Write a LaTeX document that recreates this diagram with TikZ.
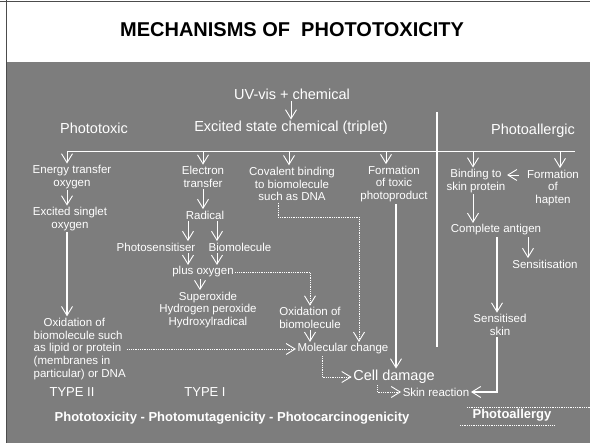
\documentclass[tikz,border=0pt]{standalone}
\usepackage{fontspec}
\setmainfont{Liberation Sans}
\usetikzlibrary{arrows.meta}
\definecolor{bg}{RGB}{125,125,125}
\begin{document}
\begin{tikzpicture}[x=1pt,y=-1pt,
  lbl/.style={text=white, font=\fontsize{11.5}{12.8}\selectfont, align=center, inner sep=1.5pt},
  big/.style={text=white, font=\fontsize{14.5}{16}\selectfont, inner sep=1.5pt},
  bold/.style={text=white, font=\fontsize{13}{15}\selectfont\bfseries, inner sep=1.5pt},
  arr/.style={draw=white, line width=0.8pt, -{Straight Barb[length=9pt,width=11pt,line width=0.9pt]}},
  thk/.style={line width=1.5pt},
  dot/.style={draw=white, line width=0.8pt, densely dotted},
  ln/.style={draw=white, line width=0.9pt}]
\useasboundingbox (0,0) rectangle (590,443);
\fill[white] (0,0) rectangle (590,443);
\fill[bg] (6,62) rectangle (590,443);
\draw[black!70, line width=0.8pt] (0,1) -- (590,1);
\draw[black!70, line width=0.8pt] (6,0) -- (6,443);

\node[font=\fontsize{20}{23}\selectfont\bfseries] (title) at (292,30) {MECHANISMS OF\ \ PHOTOTOXICITY};

% headings
\node[big] (uv) at (292,94) {UV-vis + chemical};
\node[big] (exc) at (291,128) {Excited state chemical (triplet)};
\node[big] (ptox) at (94,128) {Phototoxic};
\node[big] (pall) at (533,131) {Photoallergic};

% branch line and divider
\coordinate (hl) at (67,151);
\coordinate (hr) at (575,151);
\coordinate (vt) at (437,112);
\coordinate (vb) at (437,347);
\coordinate (b1) at (67,151);
\coordinate (b2) at (203,151);
\coordinate (b3) at (289,151);
\coordinate (b4) at (386,151);
\coordinate (b5) at (473,151);
\coordinate (b6) at (560,151);

% first row
\node[lbl] (et) at (72,177) {Energy transfer\\oxygen};
\node[lbl] (el) at (203,177) {Electron\\transfer};
\node[lbl] (cov) at (292,184) {Covalent binding\\to biomolecule\\such as DNA};
\node[lbl] (ftp) at (394,184) {Formation\\of toxic\\photoproduct};
\node[lbl] (bsp) at (476,181) {Binding to\\skin protein};
\node[lbl] (hap) at (553,188) {Formation\\of\\hapten};

% type II column
\node[lbl] (es) at (70,219) {Excited singlet\\oxygen};
\node[lbl, align=left, anchor=west] (ox1) at (32,349) {\hspace*{10pt}Oxidation of\\biomolecule such\\as lipid or protein\\(membranes in\\particular) or DNA};

% type I column
\node[lbl] (rad) at (205,215) {Radical};
\node[lbl] (ps) at (156,247) {Photosensitiser};
\node[lbl] (bm) at (240,247) {Biomolecule};
\node[lbl] (po) at (203,272) {plus oxygen};
\node[lbl] (sup) at (208,310) {Superoxide\\Hydrogen peroxide\\Hydroxylradical};
\node[lbl] (ob) at (310,318) {Oxidation of\\biomolecule};
\node[lbl] (mc) at (343,349) {Molecular change};
\node[big] (cd) at (394,377) {Cell damage};
\node[lbl] (sr) at (436,392) {Skin reaction};

% photoallergic column
\node[lbl] (ca) at (496,230) {Complete antigen};
\node[lbl] (sen) at (545,264) {Sensitisation};
\node[lbl] (ss) at (500,325) {Sensitised\\skin};

% bottom labels
\node[lbl, font=\fontsize{13}{15}\selectfont] (t2) at (72,392) {TYPE II};
\node[lbl, font=\fontsize{13}{15}\selectfont] (t1) at (205,392) {TYPE I};
\node[bold] (pt) at (232,418) {Phototoxicity - Photomutagenicity - Photocarcinogenicity};
\node[bold] (pa) at (512,415) {Photoallergy};

% column helper coordinates
\coordinate (c188) at (188,0);
\coordinate (c217) at (217,0);
\coordinate (c200) at (200,0);
\coordinate (c322) at (322,0);
\coordinate (c377) at (377,0);
\coordinate (c396) at (396,0);
\coordinate (c497) at (497,0);
\coordinate (c528) at (528,0);
\coordinate (k1) at (278,217);
\coordinate (k2) at (359,217);
\coordinate (hb) at (519,175);

% lines
\draw[ln] (hl) -- (hr);
\draw[ln, thk] (vt) -- (vb);
\draw[arr] (uv.south -| exc.north) -- (exc.north);
\draw[arr] (b1) -- (b1 |- et.north);
\draw[arr] (b2) -- (b2 |- el.north);
\draw[arr] (b3) -- (b3 |- cov.north);
\draw[arr] (b4) -- (b4 |- ftp.north);
\draw[arr] (b5) -- (b5 |- bsp.north);
\draw[arr] (b6) -- (b6 |- hap.north);

\draw[arr] (et.south -| b1) -- (es.north -| b1);
\draw[arr, thk] (es.south -| b1) -- (ox1.north -| b1);

\draw[arr] (el.south -| b2) -- (rad.north -| b2);
\draw[arr] (rad.south -| c188) -- (ps.north -| c188);
\draw[arr] (rad.south -| c217) -- (bm.north -| c217);
\draw[arr] (ps.south -| c188) -- (po.north -| c188);
\draw[arr] (bm.south -| c217) -- (po.north -| c217);
\draw[arr] (po.south -| c200) -- (sup.north -| c200);
\draw[dot, arr] (po.east) -| (ob.north);
\draw[arr] (ob.south) -- (ob.south |- mc.north);
\draw[dot, arr] (cov.south -| k1) -- (k1) -- (k2) -- (k2 |- mc.north);
\draw[dot, arr] (ox1.east |- mc.west) -- (mc.west);
\draw[arr, thk] (ftp.south -| c396) -- (cd.north -| c396);
\draw[dot, arr] (mc.south -| c322) |- (cd.west);
\draw[dot, arr] (cd.south -| c377) |- (sr.west);

\draw[arr] (bsp.south -| b5) -- (ca.north -| b5);
\draw[arr] (hb) -- (bsp.east |- hb);
\draw[arr, thk] (ca.south -| c497) -- (ss.north -| c497);
\draw[arr] (ca.south -| c528) -- (sen.north -| c528);
\draw[arr, thk] (ss.south -| c497) |- (sr.east);

\draw[dot] (467,407) -- (590,407);
\draw[dot] (460,425) -- (555,425);
\end{tikzpicture}
\end{document}
